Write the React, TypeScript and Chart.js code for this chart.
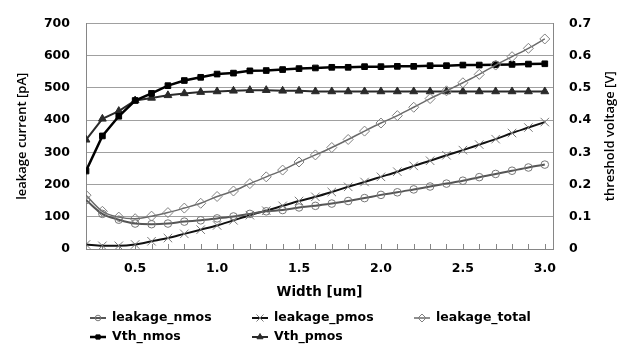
import React, { useEffect, useRef } from 'react';
import { Chart, registerables } from 'chart.js';
import { drawPoint } from 'chart.js/helpers';

Chart.register(...registerables);

const widths = [0.2, 0.3, 0.4, 0.5, 0.6, 0.7, 0.8, 0.9, 1.0, 1.1, 1.2, 1.3, 1.4, 1.5, 1.6, 1.7, 1.8, 1.9, 2.0, 2.1, 2.2, 2.3, 2.4, 2.5, 2.6, 2.7, 2.8, 2.9, 3.0];
const leakageNmos = [152, 109, 91, 79, 77, 79, 85, 89, 95, 101, 109, 117, 121, 129, 134, 141, 149, 158, 168, 176, 185, 194, 203, 212, 223, 233, 243, 253, 262];
const leakagePmos = [14, 10, 10, 14, 24, 34, 47, 60, 73, 89, 105, 119, 134, 149, 162, 177, 193, 208, 224, 240, 258, 274, 291, 307, 324, 341, 360, 377, 394];
const leakageTotal = [167, 117, 99, 94, 102, 113, 127, 142, 163, 180, 203, 224, 245, 270, 292, 315, 340, 366, 391, 414, 440, 467, 491, 516, 542, 571, 597, 623, 652];
const vthNmos = [0.242, 0.351, 0.412, 0.461, 0.483, 0.507, 0.523, 0.533, 0.543, 0.546, 0.553, 0.554, 0.557, 0.56, 0.562, 0.564, 0.564, 0.566, 0.566, 0.567, 0.567, 0.569, 0.569, 0.571, 0.571, 0.572, 0.573, 0.574, 0.575];
const vthPmos = [0.339, 0.404, 0.428, 0.461, 0.469, 0.477, 0.483, 0.487, 0.489, 0.491, 0.493, 0.493, 0.491, 0.491, 0.489, 0.489, 0.489, 0.489, 0.489, 0.489, 0.489, 0.489, 0.489, 0.489, 0.489, 0.489, 0.489, 0.489, 0.489];

const xLabelValues = [0.5, 1.0, 1.5, 2.0, 2.5, 3.0];
const leftTicks = [0, 100, 200, 300, 400, 500, 600, 700];
const rightTicks = [0, 0.1, 0.2, 0.3, 0.4, 0.5, 0.6, 0.7];

const xTitle = 'Width [um]';
const leftTitle = 'leakage current [pA]';
const rightTitle = 'threshold voltage [V]';

const GRID = '#a0a0a0';
const AXIS = '#868686';
const TICK_FONT = { family: 'DejaVu Sans', size: 12.5, weight: 'bold' as const };
const TITLE_FAMILY = 'Open Sans';
const LEGEND_FONT = 'bold 12.5px "DejaVu Sans"';

const pts = (vals: number[]) => widths.map((w, i) => ({ x: w, y: vals[i] }));

const decorPlugin = {
  id: 'decor',
  beforeDatasetsDraw(chart: any) {
    const { ctx, chartArea, scales } = chart;
    const x = scales.x;
    ctx.save();
    ctx.strokeStyle = AXIS;
    ctx.lineWidth = 1;
    x.ticks.forEach((t: any) => {
      const px = Math.round(x.getPixelForValue(t.value)) + 0.5;
      ctx.beginPath();
      ctx.moveTo(px, chartArea.bottom);
      ctx.lineTo(px, chartArea.bottom - 5);
      ctx.stroke();
    });
    ctx.restore();
  },
  afterDraw(chart: any) {
    const { ctx, chartArea } = chart;
    ctx.save();
    // right axis title, reading bottom-to-top
    ctx.translate(chart.width - 14, (chartArea.top + chartArea.bottom) / 2);
    ctx.rotate(-Math.PI / 2);
    ctx.font = `600 13px "${TITLE_FAMILY}"`;
    ctx.fillStyle = '#000';
    ctx.textAlign = 'center';
    ctx.textBaseline = 'middle';
    ctx.fillText(rightTitle, 0, 0);
    ctx.restore();

    // legend in a 3-column grid
    ctx.save();
    const startX = 90;
    const colW = 162;
    const row0 = chartArea.bottom + 69;
    const rowH = 19;
    chart.data.datasets.forEach((ds: any, i: number) => {
      const col = i % 3;
      const row = Math.floor(i / 3);
      const x0 = startX + col * colW;
      const y = row0 + row * rowH;
      ctx.strokeStyle = ds.borderColor;
      ctx.lineWidth = ds.borderWidth;
      ctx.beginPath();
      ctx.moveTo(x0, y);
      ctx.lineTo(x0 + 16, y);
      ctx.stroke();
      ctx.fillStyle = ds.pointBackgroundColor;
      ctx.strokeStyle = ds.pointBorderColor;
      ctx.lineWidth = 1;
      drawPoint(ctx, { pointStyle: ds.pointStyle, rotation: 0, radius: Math.max(2.5, ds.pointRadius - 1), borderWidth: 1 }, x0 + 8, y);
      ctx.fillStyle = '#000';
      ctx.font = LEGEND_FONT;
      ctx.textAlign = 'left';
      ctx.textBaseline = 'middle';
      ctx.fillText(ds.label, x0 + 22, y);
    });
    ctx.restore();
  },
};

export default function App() {
  const ref = useRef<HTMLCanvasElement | null>(null);

  useEffect(() => {
    if (!ref.current) return;
    const chart = new Chart(ref.current, {
      type: 'line',
      data: {
        datasets: [
          {
            label: 'leakage_nmos',
            data: pts(leakageNmos),
            yAxisID: 'y',
            borderColor: '#555555',
            borderWidth: 2,
            pointStyle: 'circle',
            pointRadius: 3.8,
            pointBorderColor: '#777777',
            pointBackgroundColor: 'rgba(0,0,0,0)',
            pointBorderWidth: 1,
            cubicInterpolationMode: 'monotone',
          },
          {
            label: 'leakage_pmos',
            data: pts(leakagePmos),
            yAxisID: 'y',
            borderColor: '#111111',
            borderWidth: 2,
            pointStyle: 'crossRot',
            pointRadius: 6,
            pointBorderColor: '#7a7a7a',
            pointBackgroundColor: 'rgba(0,0,0,0)',
            pointBorderWidth: 1,
            cubicInterpolationMode: 'monotone',
          },
          {
            label: 'leakage_total',
            data: pts(leakageTotal),
            yAxisID: 'y',
            borderColor: '#6a6a6a',
            borderWidth: 1.5,
            pointStyle: 'rectRot',
            pointRadius: 5,
            pointBorderColor: '#808080',
            pointBackgroundColor: 'rgba(0,0,0,0)',
            pointBorderWidth: 1,
            cubicInterpolationMode: 'monotone',
          },
          {
            label: 'Vth_nmos',
            data: pts(vthNmos),
            yAxisID: 'y1',
            borderColor: '#000000',
            borderWidth: 2.5,
            pointStyle: 'rect',
            pointRadius: 4,
            pointBorderColor: '#000000',
            pointBackgroundColor: '#000000',
            pointBorderWidth: 1,
            tension: 0,
          },
          {
            label: 'Vth_pmos',
            data: pts(vthPmos),
            yAxisID: 'y1',
            borderColor: '#2a2a2a',
            borderWidth: 2,
            pointStyle: 'triangle',
            pointRadius: 4.5,
            pointBorderColor: '#2a2a2a',
            pointBackgroundColor: '#2a2a2a',
            pointBorderWidth: 1,
            tension: 0,
          },
        ],
      },
      options: {
        responsive: false,
        animation: false,
        devicePixelRatio: 1,
        layout: { padding: { top: 18, bottom: 46, left: 0, right: 0 } },
        plugins: {
          legend: { display: false },
          tooltip: { enabled: false },
        },
        scales: {
          x: {
            type: 'linear',
            min: 0.2,
            max: 3.05,
            afterBuildTicks: (scale: any) => {
              scale.ticks = widths.map((v) => ({ value: v }));
            },
            afterFit: (scale: any) => {
              scale.height = 52;
            },
            grid: { display: false, drawTicks: false },
            border: { display: true, color: AXIS, width: 1 },
            ticks: {
              autoSkip: false,
              maxRotation: 0,
              padding: 12,
              color: '#000',
              font: TICK_FONT,
              callback: (v: any) => {
                const n = Number(v);
                return xLabelValues.some((l) => Math.abs(l - n) < 1e-6) ? n.toFixed(1) : '';
              },
            },
            title: {
              display: true,
              text: xTitle,
              color: '#000',
              font: { family: 'DejaVu Sans', size: 13.5, weight: 'bold' },
              padding: { top: 0, bottom: 0 },
            },
          },
          y: {
            type: 'linear',
            position: 'left',
            min: 0,
            max: 700,
            afterBuildTicks: (scale: any) => {
              scale.ticks = leftTicks.map((v) => ({ value: v }));
            },
            afterFit: (scale: any) => {
              scale.width = 86;
            },
            grid: { color: GRID, drawTicks: false, lineWidth: 1 },
            border: { display: true, color: AXIS, width: 1 },
            ticks: {
              padding: 16,
              color: '#000',
              font: TICK_FONT,
              callback: (v: any) => String(v),
            },
            title: {
              display: true,
              text: leftTitle,
              color: '#000',
              font: { family: TITLE_FAMILY, size: 13, weight: '600' },
              padding: { top: 14, bottom: 0 },
            },
          },
          y1: {
            type: 'linear',
            position: 'right',
            min: 0,
            max: 0.7,
            afterBuildTicks: (scale: any) => {
              scale.ticks = rightTicks.map((v) => ({ value: v }));
            },
            afterFit: (scale: any) => {
              scale.width = 71;
            },
            grid: { drawOnChartArea: false, drawTicks: false },
            border: { display: true, color: AXIS, width: 1 },
            ticks: {
              padding: 16,
              color: '#000',
              font: TICK_FONT,
              callback: (v: any) => (Number(v) === 0 ? '0' : Number(v).toFixed(1)),
            },
          },
        },
      },
      plugins: [decorPlugin],
    } as any);
    return () => chart.destroy();
  }, []);

  return (
    <div style={{ position: 'absolute', left: 0, top: 0, width: 624, height: 347, background: '#fff' }}>
      <canvas ref={ref} width={624} height={347} style={{ display: 'block' }} />
    </div>
  );
}
